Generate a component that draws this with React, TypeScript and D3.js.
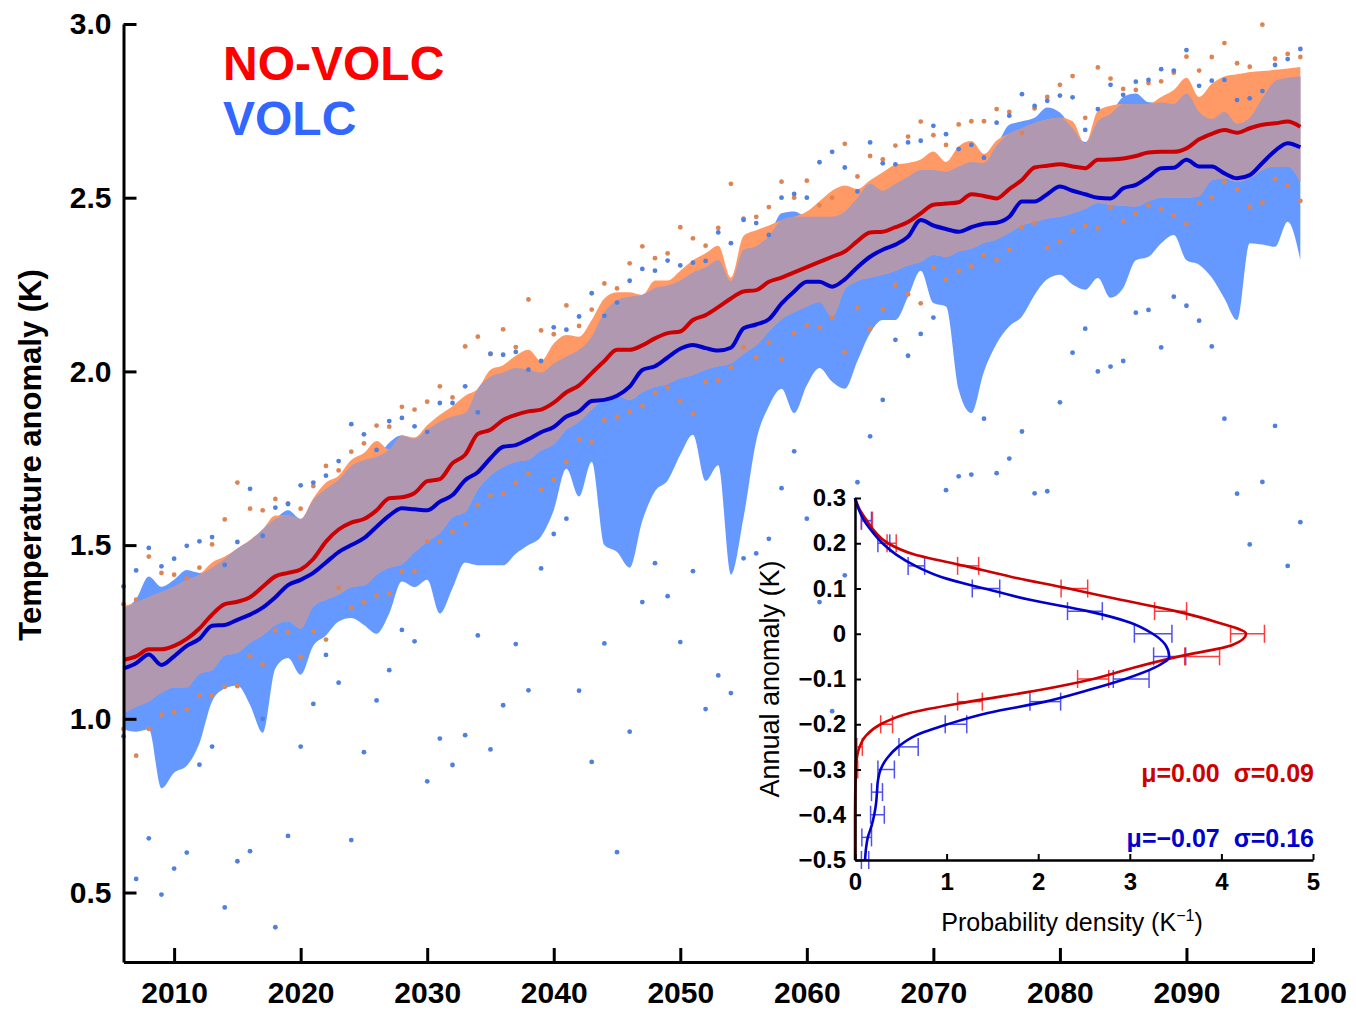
import * as d3 from "d3";
import { useEffect, useRef } from "react";

// years 2006..2099, one value per year
const years = d3.range(2006, 2100);

const noVolcMean = [
  1.17, 1.18, 1.2, 1.2, 1.21, 1.23, 1.26, 1.3, 1.33, 1.337,
  1.35, 1.38, 1.41, 1.42, 1.43, 1.46, 1.51, 1.545, 1.565, 1.575,
  1.6, 1.635, 1.638, 1.65, 1.684, 1.69, 1.736, 1.76, 1.82, 1.832,
  1.86, 1.875, 1.885, 1.89, 1.91, 1.94, 1.96, 1.995, 2.03, 2.062,
  2.062, 2.075, 2.095, 2.11, 2.115, 2.148, 2.162, 2.185, 2.21, 2.23,
  2.234, 2.258, 2.27, 2.285, 2.3, 2.315, 2.33, 2.345, 2.375, 2.4,
  2.402, 2.415, 2.43, 2.455, 2.48, 2.483, 2.487, 2.51, 2.505, 2.498,
  2.525, 2.551, 2.587, 2.592, 2.596, 2.59, 2.585, 2.609, 2.61, 2.613,
  2.62, 2.63, 2.632, 2.632, 2.642, 2.668, 2.684, 2.695, 2.687, 2.7,
  2.71, 2.714, 2.719, 2.704,
];

const volcMean = [
  1.145, 1.16, 1.185, 1.155, 1.18, 1.21, 1.23, 1.268, 1.27, 1.285,
  1.3, 1.32, 1.35, 1.385, 1.4, 1.42, 1.45, 1.48, 1.5, 1.52,
  1.553, 1.585, 1.606, 1.603, 1.6, 1.625, 1.644, 1.687, 1.71, 1.75,
  1.783, 1.788, 1.805, 1.825, 1.84, 1.87, 1.885, 1.915, 1.918, 1.93,
  1.956, 2.004, 2.015, 2.04, 2.065, 2.076, 2.067, 2.06, 2.068, 2.124,
  2.135, 2.15, 2.195, 2.23, 2.258, 2.258, 2.244, 2.265, 2.3, 2.33,
  2.35, 2.365, 2.388, 2.436, 2.42, 2.41, 2.402, 2.415, 2.425, 2.428,
  2.445, 2.489, 2.489, 2.51, 2.532, 2.52, 2.51, 2.5, 2.498, 2.527,
  2.537, 2.56, 2.585, 2.586, 2.609, 2.59, 2.59, 2.57, 2.556, 2.565,
  2.6, 2.635, 2.657, 2.645,
];

const noVolcUpper = [
  1.325, 1.335, 1.35, 1.365, 1.38, 1.4, 1.415, 1.45, 1.467, 1.49,
  1.515, 1.545, 1.585, 1.585, 1.575, 1.635, 1.68, 1.7, 1.745, 1.765,
  1.8, 1.775, 1.815, 1.81, 1.845, 1.875, 1.9, 1.93, 1.95, 2.005,
  2.018, 2.045, 2.062, 2.03, 2.08, 2.105, 2.1, 2.148, 2.21, 2.228,
  2.228, 2.22, 2.262, 2.262, 2.29, 2.32, 2.34, 2.362, 2.27, 2.39,
  2.406, 2.42, 2.435, 2.445, 2.46, 2.49, 2.52, 2.535, 2.525, 2.55,
  2.573, 2.595, 2.6, 2.61, 2.633, 2.603, 2.648, 2.663, 2.626, 2.665,
  2.685, 2.7, 2.715, 2.725, 2.73, 2.72, 2.655, 2.75, 2.765, 2.77,
  2.77, 2.77, 2.79, 2.81, 2.845, 2.79, 2.828, 2.849, 2.855, 2.862,
  2.865, 2.868, 2.872, 2.876,
];

const noVolcLower = [
  1.015, 1.035, 1.05, 1.075, 1.09, 1.091, 1.13, 1.14, 1.182, 1.19,
  1.219, 1.24, 1.27, 1.281, 1.26, 1.323, 1.343, 1.358, 1.379, 1.384,
  1.415, 1.435, 1.445, 1.48, 1.51, 1.534, 1.58, 1.595, 1.66, 1.7,
  1.725, 1.74, 1.746, 1.772, 1.79, 1.832, 1.855, 1.89, 1.92, 1.93,
  1.918, 1.94, 1.955, 1.964, 1.98, 1.99, 2.005, 2.015, 2.023, 2.05,
  2.075, 2.115, 2.15, 2.17, 2.187, 2.2, 2.157, 2.235, 2.26, 2.27,
  2.278, 2.29, 2.305, 2.315, 2.335, 2.33, 2.345, 2.353, 2.37, 2.38,
  2.399, 2.42, 2.43, 2.44, 2.445, 2.455, 2.468, 2.485, 2.48, 2.476,
  2.475, 2.49, 2.5, 2.5, 2.5, 2.505, 2.55, 2.555, 2.545, 2.557,
  2.58, 2.59, 2.59, 2.545,
];

const volcUpper = [
  1.317, 1.345, 1.41, 1.38, 1.4, 1.428, 1.42, 1.435, 1.461, 1.49,
  1.513, 1.545, 1.575, 1.6, 1.575, 1.63, 1.662, 1.688, 1.728, 1.744,
  1.754, 1.795, 1.816, 1.806, 1.832, 1.855, 1.87, 1.88, 1.95, 1.985,
  1.997, 2.01, 2.005, 1.997, 2.023, 2.043, 2.062, 2.1, 2.17, 2.205,
  2.215, 2.221, 2.24, 2.247, 2.262, 2.285, 2.3, 2.32, 2.26, 2.35,
  2.36, 2.39, 2.455, 2.46, 2.445, 2.445, 2.445, 2.46, 2.5, 2.54,
  2.52, 2.54, 2.56, 2.58, 2.58, 2.575, 2.59, 2.603, 2.6, 2.65,
  2.71, 2.72, 2.73, 2.76, 2.745, 2.7, 2.66, 2.72, 2.741, 2.79,
  2.8, 2.775, 2.774, 2.77, 2.8, 2.747, 2.727, 2.747, 2.713, 2.73,
  2.787, 2.835, 2.845, 2.849,
];

const volcLower = [
  0.969, 0.963, 0.97, 0.8, 0.845, 0.865, 0.93, 1.05, 1.087, 1.096,
  1.04, 0.96, 1.145, 1.175, 1.127, 1.21, 1.24, 1.28, 1.29, 1.27,
  1.245, 1.303, 1.395, 1.379, 1.4, 1.303, 1.376, 1.45, 1.442, 1.442,
  1.442, 1.475, 1.5, 1.525, 1.6, 1.72, 1.64, 1.74, 1.5, 1.48,
  1.435, 1.57, 1.655, 1.686, 1.76, 1.818, 1.685, 1.73, 1.415, 1.58,
  1.8, 1.9, 1.95, 1.88, 1.96, 2.01, 1.97, 1.95, 2.03, 2.11,
  2.148, 2.148, 2.215, 2.29, 2.197, 2.187, 1.947, 1.88, 2.0, 2.08,
  2.13, 2.158, 2.22, 2.265, 2.278, 2.25, 2.235, 2.269, 2.212, 2.24,
  2.32, 2.33, 2.369, 2.393, 2.32, 2.307, 2.27, 2.21, 2.148, 2.369,
  2.365, 2.359, 2.431, 2.321,
];

// yearly extremes (dots)
const noVolcMax = [
  1.33, 1.343, 1.467, 1.42, 1.415, 1.404, 1.435, 1.502, 1.574, 1.68,
  1.605, 1.6, 1.633, 1.62, 1.605, 1.67, 1.728, 1.715, 1.769, 1.793,
  1.844, 1.841, 1.898, 1.89, 1.913, 1.957, 1.925, 2.072, 2.1, 2.05,
  2.121, 2.07, 2.207, 2.118, 2.107, 2.19, 2.131, 2.178, 2.253, 2.239,
  2.311, 2.36, 2.326, 2.34, 2.415, 2.383, 2.362, 2.413, 2.54, 2.44,
  2.445, 2.473, 2.546, 2.5, 2.549, 2.478, 2.5, 2.655, 2.561, 2.62,
  2.61, 2.65, 2.676, 2.719, 2.68, 2.652, 2.711, 2.72, 2.72, 2.755,
  2.747, 2.686, 2.757, 2.79, 2.825, 2.85, 2.73, 2.875, 2.843, 2.813,
  2.81, 2.83, 2.835, 2.86, 2.906, 2.866, 2.905, 2.945, 2.887, 2.877,
  2.998, 2.9, 2.914, 2.905,
];

const noVolcMin = [
  0.971, 0.894, 0.971, 1.012, 1.019, 1.027, 1.067, 1.067, 1.092, 1.094,
  1.18, 1.156, 1.254, 1.249, 1.178, 1.252, 1.228, 1.377, 1.319, 1.335,
  1.354, 1.36, 1.424, 1.424, 1.511, 1.511, 1.538, 1.562, 1.616, 1.643,
  1.648, 1.679, 1.705, 1.659, 1.688, 1.739, 1.805, 1.796, 1.859, 1.869,
  1.883, 1.901, 1.938, 1.952, 1.915, 1.878, 1.969, 1.974, 2.011, 2.069,
  2.041, 2.083, 2.036, 2.11, 2.132, 2.126, 2.154, 2.055, 2.182, 2.122,
  2.179, 2.249, 2.222, 2.196, 2.299, 2.264, 2.289, 2.302, 2.335, 2.321,
  2.35, 2.415, 2.427, 2.355, 2.374, 2.405, 2.419, 2.412, 2.471, 2.433,
  2.455, 2.477, 2.468, 2.449, 2.424, 2.484, 2.501, 2.545, 2.524, 2.474,
  2.486, 2.554, 2.534, 2.491,
];

const volcMax = [
  1.381, 1.427, 1.492, 1.439, 1.461, 1.498, 1.511, 1.523, 1.443, 1.509,
  1.662, 1.527, 1.608, 1.618, 1.672, 1.68, 1.7, 1.742, 1.848, 1.819,
  1.774, 1.857, 1.866, 1.842, 1.826, 1.909, 1.909, 1.957, 1.882, 2.051,
  2.048, 2.056, 2.005, 2.03, 2.127, 2.12, 2.158, 2.225, 2.16, 2.198,
  2.261, 2.295, 2.29, 2.319, 2.305, 2.313, 2.318, 2.4, 2.369, 2.436,
  2.427, 2.393, 2.5, 2.511, 2.5, 2.602, 2.632, 2.587, 2.518, 2.659,
  2.599, 2.596, 2.659, 2.664, 2.707, 2.683, 2.64, 2.652, 2.615, 2.716,
  2.736, 2.798, 2.764, 2.779, 2.794, 2.789, 2.695, 2.755, 2.825, 2.796,
  2.834, 2.839, 2.87, 2.866, 2.925, 2.822, 2.837, 2.839, 2.781, 2.786,
  2.807, 2.882, 2.899, 2.928,
];

const volcMin = [
  0.95, 0.539, 0.656, 0.494, 0.569, 0.615, 0.868, 0.92, 0.457, 0.59,
  0.619, 1.0, 0.4, 0.663, 0.92, 1.043, 1.184, 1.104, 0.651, 0.904,
  1.053, 1.14, 1.256, 1.223, 0.82, 0.943, 0.867, 0.953, 1.24, 0.912,
  1.039, 1.215, 1.082, 1.433, 1.532, 1.576, 1.081, 0.876, 1.217, 0.616,
  0.963, 1.336, 1.448, 1.353, 1.221, 1.425, 1.028, 1.125, 1.074, 1.462,
  1.476, 1.518, 1.664, 1.77, 1.576, 1.336, 1.022, 1.413, 1.681, 1.813,
  1.918, 2.091, 2.045, 2.108, 2.155, 1.658, 1.698, 1.703, 1.864, 1.707,
  1.749, 1.827, 1.649, 1.655, 1.911, 2.054, 2.123, 2.0, 2.014, 2.03,
  2.169, 2.177, 2.069, 2.215, 2.189, 2.146, 2.072, 1.864, 1.648, 1.502,
  1.682, 1.843, 1.44, 1.566,
];

const yTicks = [0.5, 1.0, 1.5, 2.0, 2.5, 3.0];
const xTicks = [2010, 2020, 2030, 2040, 2050, 2060, 2070, 2080, 2090, 2100];

// inset: probability density of annual anomaly
const pdfTicksY = [0.3, 0.2, 0.1, 0, -0.1, -0.2, -0.3, -0.4, -0.5];
const pdfTicksX = [0, 1, 2, 3, 4, 5];

const redPdfAnom = [0.3, 0.275, 0.25, 0.225, 0.2, 0.175, 0.15, 0.125, 0.1, 0.075, 0.05, 0.025, 0,
  -0.025, -0.05, -0.075, -0.1, -0.125, -0.15, -0.175, -0.2, -0.225, -0.25, -0.275, -0.3, -0.4, -0.5];
const redPdfDens = [0, 0.05, 0.13, 0.22, 0.36, 0.65, 1.2, 1.72, 2.33, 2.9, 3.5, 3.96, 4.27,
  4.12, 3.54, 3.04, 2.6, 2.0, 1.25, 0.6, 0.28, 0.12, 0.05, 0.02, 0.01, 0, 0];

const bluePdfAnom = [0.3, 0.275, 0.25, 0.225, 0.2, 0.175, 0.15, 0.125, 0.1, 0.075, 0.05, 0.025, 0,
  -0.025, -0.05, -0.075, -0.1, -0.125, -0.15, -0.175, -0.2, -0.225, -0.25, -0.275, -0.3,
  -0.325, -0.35, -0.375, -0.4, -0.425, -0.45, -0.475, -0.5];
const bluePdfDens = [0, 0.04, 0.1, 0.19, 0.3, 0.45, 0.66, 0.95, 1.41, 1.91, 2.54, 3.0, 3.25,
  3.39, 3.43, 3.27, 2.95, 2.54, 2.08, 1.45, 1.01, 0.66, 0.47, 0.35, 0.28,
  0.25, 0.24, 0.23, 0.21, 0.18, 0.14, 0.12, 0.11];

const redBarAnom = [0.25, 0.2, 0.15, 0.1, 0.05, 0, -0.05, -0.1, -0.15, -0.2, -0.25, -0.3];
const redBarLo = [0.07, 0.35, 1.12, 2.25, 3.27, 4.1, 3.6, 2.43, 1.12, 0.28, 0.02, 0.0];
const redBarHi = [0.19, 0.45, 1.35, 2.54, 3.62, 4.47, 3.98, 2.77, 1.39, 0.41, 0.08, 0.03];

const blueBarAnom = [0.25, 0.2, 0.15, 0.1, 0.05, 0, -0.05, -0.1, -0.15, -0.2, -0.25, -0.3, -0.35, -0.4, -0.45, -0.5];
const blueBarLo = [0.07, 0.25, 0.58, 1.28, 2.32, 3.05, 3.26, 2.82, 1.91, 0.985, 0.48, 0.25, 0.18, 0.17, 0.075, 0.07];
const blueBarHi = [0.18, 0.38, 0.76, 1.58, 2.7, 3.46, 3.61, 3.21, 2.245, 1.22, 0.69, 0.43, 0.3, 0.32, 0.18, 0.15];

const FONT = "'Liberation Sans', Arial, Helvetica, sans-serif";

export default function App() {
  const svgRef = useRef<SVGSVGElement>(null);

  useEffect(() => {
    document.body.style.margin = "0";
    const svg = d3.select(svgRef.current);
    svg.selectAll("*").remove();

    const x = d3.scaleLinear().domain([2006, 2100]).range([123.5, 1313]);
    const y = d3.scaleLinear().domain([0.3, 3.0]).range([962, 24]);

    const rows = years.map((yr, i) => ({
      yr,
      nvHi: noVolcUpper[i],
      nvLo: noVolcLower[i],
      vHi: volcUpper[i],
      vLo: volcLower[i],
    }));

    const band = (lo: (d: any) => number, hi: (d: any) => number) =>
      d3.area<any>()
        .x((d) => x(d.yr))
        .y0((d) => y(lo(d)))
        .y1((d) => y(hi(d)))
        .curve(d3.curveMonotoneX);

    const g = svg.append("g");

    // VOLC range, NO-VOLC range, then where they overlap
    g.append("path").datum(rows)
      .attr("d", band((d) => d.vLo, (d) => d.vHi))
      .attr("fill", "#6699FF");
    g.append("path").datum(rows)
      .attr("d", band((d) => d.nvLo, (d) => d.nvHi))
      .attr("fill", "#FF9966");
    g.append("path").datum(rows)
      .attr("d", band((d) => Math.max(d.nvLo, d.vLo), (d) => Math.min(d.nvHi, d.vHi)))
      .attr("fill", "#B098B0");

    const dots = (vals: number[], color: string) => {
      g.append("g").selectAll("circle")
        .data(vals)
        .enter()
        .append("circle")
        .attr("cx", (_, i) => x(years[i]))
        .attr("cy", (d) => y(d))
        .attr("r", 2.4)
        .attr("fill", color);
    };
    dots(noVolcMax, "#DE8453");
    dots(noVolcMin, "#DE8453");
    dots(volcMax, "#4F7FDF");
    dots(volcMin, "#4F7FDF");

    const meanLine = (vals: number[], color: string) => {
      const line = d3.line<number>()
        .x((_, i) => x(years[i]))
        .y((d) => y(d))
        .curve(d3.curveMonotoneX);
      g.append("path").datum(vals)
        .attr("d", line)
        .attr("fill", "none")
        .attr("stroke", color)
        .attr("stroke-width", 4)
        .attr("stroke-linejoin", "round");
    };
    meanLine(noVolcMean, "#CC0000");
    meanLine(volcMean, "#0000CC");

    // main axes
    const yAxis = svg.append("g")
      .attr("transform", "translate(123.5,0)")
      .call(d3.axisLeft(y).tickValues(yTicks).tickFormat(d3.format(".1f"))
        .tickSize(-13).tickSizeOuter(0).tickPadding(12));
    const xAxis = svg.append("g")
      .attr("transform", "translate(0,962)")
      .call(d3.axisBottom(x).tickValues(xTicks).tickFormat(d3.format("d"))
        .tickSize(-14).tickSizeOuter(0).tickPadding(20));
    [yAxis, xAxis].forEach((a) => {
      a.select(".domain").attr("stroke-width", 3);
      a.selectAll(".tick line").attr("stroke-width", 3);
      a.selectAll("text")
        .attr("font-family", FONT)
        .attr("font-weight", "bold")
        .attr("font-size", 30)
        .attr("fill", "black");
    });

    svg.append("text")
      .attr("transform", "translate(30,455) rotate(-90)")
      .attr("text-anchor", "middle")
      .attr("dominant-baseline", "central")
      .attr("font-family", FONT)
      .attr("font-weight", "bold")
      .attr("font-size", 31)
      .text("Temperature anomaly (K)");

    // legend
    svg.append("text")
      .attr("x", 223).attr("y", 80)
      .attr("font-family", FONT).attr("font-weight", "bold").attr("font-size", 48)
      .attr("fill", "#FF0000")
      .text("NO-VOLC");
    svg.append("text")
      .attr("x", 223).attr("y", 135)
      .attr("font-family", FONT).attr("font-weight", "bold").attr("font-size", 48)
      .attr("fill", "#3366FF")
      .text("VOLC");

    // inset
    const ix = d3.scaleLinear().domain([0, 5]).range([855, 1313]);
    const iy = d3.scaleLinear().domain([-0.5, 0.3]).range([860, 498]);
    const inset = svg.append("g");

    const bars = (anom: number[], lo: number[], hi: number[], color: string) => {
      const bg = inset.append("g").attr("stroke", color).attr("stroke-width", 1.5);
      anom.forEach((a, i) => {
        bg.append("line")
          .attr("x1", ix(lo[i])).attr("x2", ix(hi[i]))
          .attr("y1", iy(a)).attr("y2", iy(a));
        [lo[i], hi[i]].forEach((v) => {
          bg.append("line")
            .attr("x1", ix(v)).attr("x2", ix(v))
            .attr("y1", iy(a) - 9).attr("y2", iy(a) + 9);
        });
      });
    };
    bars(redBarAnom, redBarLo, redBarHi, "#FF3B3B");
    bars(blueBarAnom, blueBarLo, blueBarHi, "#5050F0");

    const pdfLine = (dens: number[], anom: number[], color: string) => {
      const pts = dens.map((d, i) => [d, anom[i]] as [number, number]);
      const line = d3.line<[number, number]>()
        .x((d) => ix(d[0]))
        .y((d) => iy(d[1]))
        .curve(d3.curveMonotoneY);
      inset.append("path").datum(pts)
        .attr("d", line)
        .attr("fill", "none")
        .attr("stroke", color)
        .attr("stroke-width", 2.6);
    };
    pdfLine(redPdfDens, redPdfAnom, "#CC0000");
    pdfLine(bluePdfDens, bluePdfAnom, "#0000CC");

    const iyAxis = inset.append("g")
      .attr("transform", "translate(855,0)")
      .call(d3.axisLeft(iy).tickValues(pdfTicksY)
        .tickFormat((d: any) => (Math.abs(d) < 1e-9 ? "0" : d3.format(".1f")(d)))
        .tickSize(-6).tickSizeOuter(0).tickPadding(9));
    const ixAxis = inset.append("g")
      .attr("transform", "translate(0,860)")
      .call(d3.axisBottom(ix).tickValues(pdfTicksX).tickFormat(d3.format("d"))
        .tickSize(-6).tickSizeOuter(0).tickPadding(13));
    [iyAxis, ixAxis].forEach((a) => {
      a.select(".domain").attr("stroke-width", 2.5);
      a.selectAll(".tick line").attr("stroke-width", 2);
      a.selectAll("text")
        .attr("font-family", FONT)
        .attr("font-weight", "bold")
        .attr("font-size", 24)
        .attr("fill", "black");
    });

    inset.append("text")
      .attr("transform", "translate(770,679) rotate(-90)")
      .attr("text-anchor", "middle")
      .attr("dominant-baseline", "central")
      .attr("font-family", FONT)
      .attr("font-size", 27)
      .text("Annual anomaly (K)");

    const xl = inset.append("text")
      .attr("x", 1072).attr("y", 931)
      .attr("text-anchor", "middle")
      .attr("font-family", FONT)
      .attr("font-size", 25);
    xl.append("tspan").text("Probability density (K");
    xl.append("tspan").attr("dy", -10).attr("font-size", 16).text("\u22121");
    xl.append("tspan").attr("dy", 10).text(")");

    inset.append("text")
      .attr("x", 1314).attr("y", 782)
      .attr("text-anchor", "end")
      .attr("font-family", FONT).attr("font-weight", "bold").attr("font-size", 25)
      .attr("fill", "#CC0000")
      .attr("xml:space", "preserve")
      .text("\u03bc=0.00  \u03c3=0.09");
    inset.append("text")
      .attr("x", 1314).attr("y", 847)
      .attr("text-anchor", "end")
      .attr("font-family", FONT).attr("font-weight", "bold").attr("font-size", 25)
      .attr("fill", "#0000CC")
      .attr("xml:space", "preserve")
      .text("\u03bc=\u22120.07  \u03c3=0.16");
  }, []);

  return (
    <svg
      ref={svgRef}
      width={1356}
      height={1010}
      style={{ display: "block", background: "#ffffff" }}
    />
  );
}
